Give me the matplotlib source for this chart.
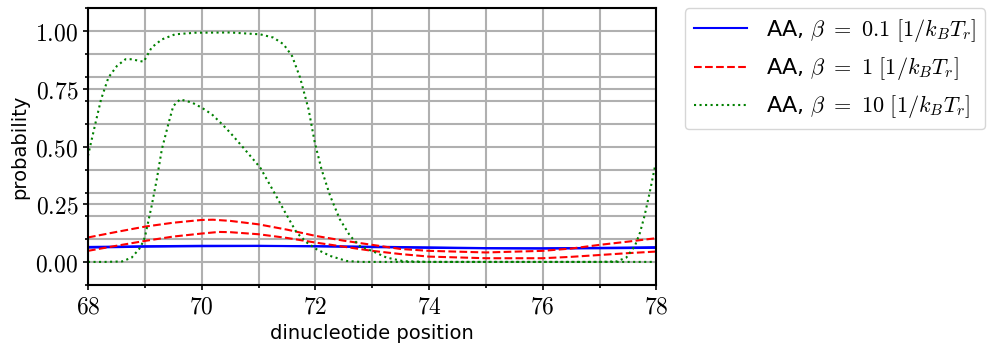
import matplotlib
matplotlib.use('Agg')
import matplotlib.pyplot as plt
from matplotlib.ticker import MultipleLocator, FormatStrFormatter

plt.rcParams['mathtext.fontset'] = 'cm'

# beta = 0.1 (two nearly identical curves)
blue1_x = [68, 69, 70, 71, 72, 73, 74, 75, 76, 77, 78]
blue1_y = [0.065, 0.068, 0.070, 0.070, 0.068, 0.064, 0.061, 0.059, 0.059, 0.061, 0.064]
blue2_x = [68, 69, 70, 71, 72, 73, 74, 75, 76, 77, 78]
blue2_y = [0.062, 0.066, 0.068, 0.069, 0.068, 0.066, 0.063, 0.060, 0.058, 0.059, 0.061]

# beta = 1
red1_x = [68, 68.5, 69, 69.5, 70, 70.2, 70.5, 71, 71.5, 72, 72.5, 73, 73.5, 74, 75, 76, 76.5, 77, 77.5, 78]
red1_y = [0.106, 0.130, 0.153, 0.170, 0.182, 0.183, 0.178, 0.163, 0.140, 0.113, 0.092, 0.074, 0.056, 0.048,
          0.041, 0.048, 0.058, 0.074, 0.088, 0.103]
red2_x = [68, 68.5, 69, 69.5, 70, 70.3, 70.5, 71, 71.5, 72, 72.5, 73, 73.5, 74, 75, 76, 76.5, 77, 77.5, 78]
red2_y = [0.048, 0.070, 0.091, 0.110, 0.123, 0.130, 0.129, 0.120, 0.104, 0.084, 0.066, 0.048, 0.034, 0.023,
          0.016, 0.016, 0.022, 0.030, 0.038, 0.045]

# beta = 10
green1_x = [68, 68.13, 68.23, 68.36, 68.51, 68.66, 68.77, 68.9, 68.98, 69.12, 69.30, 69.53, 69.89, 70.5,
            71.03, 71.26, 71.44, 71.59, 71.73, 71.88, 71.99, 72.11, 72.26, 72.43, 72.61, 72.78, 73.02,
            73.25, 73.55, 74, 75, 76, 77, 77.3, 77.47, 77.62, 77.71, 77.79, 77.88, 77.97, 78]
green1_y = [0.46, 0.60, 0.705, 0.80, 0.85, 0.879, 0.879, 0.872, 0.868, 0.93, 0.965, 0.987, 0.994, 0.995,
            0.987, 0.973, 0.944, 0.893, 0.80, 0.662, 0.517, 0.40, 0.286, 0.185, 0.113, 0.069, 0.045,
            0.019, 0.003, 0.0, 0.0, 0.0, 0.0, 0.002, 0.019, 0.069, 0.127, 0.20, 0.30, 0.409, 0.43]
green2_x = [68, 68.3, 68.6, 68.77, 68.92, 69.0, 69.12, 69.21, 69.30, 69.42, 69.50, 69.62, 69.83, 70.0,
            70.18, 70.36, 70.5, 70.73, 71.03, 71.26, 71.47, 71.67, 71.85, 72.02, 72.26, 72.55, 72.8,
            74, 76, 78]
green2_y = [0.0, 0.0, 0.002, 0.019, 0.062, 0.106, 0.243, 0.358, 0.489, 0.604, 0.676, 0.705, 0.691, 0.669,
            0.64, 0.597, 0.561, 0.496, 0.409, 0.308, 0.214, 0.127, 0.084, 0.055, 0.026, 0.004, 0.0,
            0.0, 0.0, 0.0]

labels = [r'AA, $\beta\ =\ 0.1\ [1/k_BT_r]$',
          r'AA, $\beta\ =\ 1\ [1/k_BT_r]$',
          r'AA, $\beta\ =\ 10\ [1/k_BT_r]$']

fig = plt.figure(figsize=(9.93, 3.45), dpi=100)
ax = fig.add_axes([0.0886, 0.174, 0.5725, 0.802])

ax.plot(blue1_x, blue1_y, color='blue', linestyle='-', label=labels[0])
ax.plot(blue2_x, blue2_y, color='blue', linestyle='-')
ax.plot(red1_x, red1_y, color='red', linestyle='--', label=labels[1])
ax.plot(red2_x, red2_y, color='red', linestyle='--')
ax.plot(green1_x, green1_y, color='green', linestyle=':', label=labels[2])
ax.plot(green2_x, green2_y, color='green', linestyle=':')

ax.set_xlim(68, 78)
ax.set_ylim(-0.1, 1.1)
ax.xaxis.set_major_locator(MultipleLocator(2))
ax.xaxis.set_minor_locator(MultipleLocator(1))
ax.yaxis.set_major_locator(MultipleLocator(0.25))
ax.yaxis.set_minor_locator(MultipleLocator(0.1))
ax.xaxis.set_major_formatter(FormatStrFormatter(r'$%d$'))
ax.yaxis.set_major_formatter(FormatStrFormatter(r'$%.2f$'))
ax.grid(which='both', color='#b0b0b0', linewidth=1.5)
ax.set_axisbelow(True)
for s in ax.spines.values():
    s.set_linewidth(1.5)
ax.tick_params(which='both', width=1.2, labelsize=17)

ax.set_xlabel('dinucleotide position', fontsize=14)
ax.set_ylabel('probability', fontsize=14)

ax.legend(loc='upper left', bbox_to_anchor=(1.05, 1), borderaxespad=0, fontsize=16,
          handlelength=2.4, handletextpad=0.85)

plt.savefig('out.png', dpi=100)
